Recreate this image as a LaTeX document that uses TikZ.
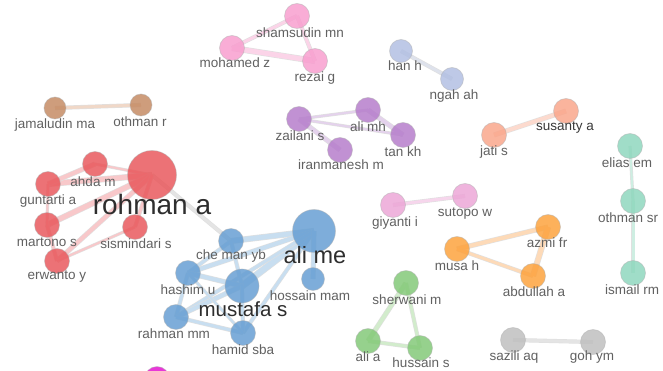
\documentclass[tikz,border=0pt]{standalone}
\usepackage{fontspec}
\setmainfont{Liberation Sans}
\usetikzlibrary{backgrounds}
\definecolor{cRed}{RGB}{233,84,88}
\definecolor{eRed}{RGB}{248,200,202}
\definecolor{cBlue}{RGB}{98,156,210}
\definecolor{eBlue}{RGB}{200,222,240}
\definecolor{cBrown}{RGB}{196,136,96}
\definecolor{eBrown}{RGB}{240,216,200}
\definecolor{cPink}{RGB}{248,156,206}
\definecolor{ePink}{RGB}{251,212,232}
\definecolor{cLav}{RGB}{176,190,226}
\definecolor{eLav}{RGB}{222,226,236}
\definecolor{cPurp}{RGB}{180,122,202}
\definecolor{ePurp}{RGB}{228,210,236}
\definecolor{cSalm}{RGB}{250,164,136}
\definecolor{eSalm}{RGB}{252,218,206}
\definecolor{cTeal}{RGB}{140,214,188}
\definecolor{eTeal}{RGB}{206,238,226}
\definecolor{cPink2}{RGB}{236,164,214}
\definecolor{ePink2}{RGB}{246,214,236}
\definecolor{cOrng}{RGB}{253,160,56}
\definecolor{eOrng}{RGB}{253,218,184}
\definecolor{cGreen}{RGB}{128,200,116}
\definecolor{eGreen}{RGB}{210,236,204}
\definecolor{cGray}{RGB}{190,190,190}
\definecolor{eGray}{RGB}{228,228,228}
\definecolor{cMag}{RGB}{232,56,216}
\tikzset{
  x=1pt, y=-1pt,
  author/.style={circle, draw=white!70!black, line width=0.7pt, fill=#1, fill opacity=0.82, draw opacity=0.5, inner sep=0pt, minimum size=25pt},
  nm/.style={text=black!62, font=\fontsize{13.5}{14}\selectfont, inner sep=0pt},
  bignm/.style={text=black!82, font=\fontsize{#1}{#1}\selectfont, inner sep=0pt},
}
\newcommand\mylink[4]{%
  \draw[black!12, line width=#2+1.2pt] (#3.center) -- (#4.center);
  \draw[#1, line width=#2] (#3.center) -- (#4.center);}
\begin{document}
\begin{tikzpicture}
\useasboundingbox (0,0) rectangle (663,371);
\clip (0,0) rectangle (663,371);

% brown
\node[author=cBrown, minimum size=22pt] (jam) at (55,108) {};
\node[author=cBrown, minimum size=22pt] (othr) at (141,105) {};
% red
\node[author=cRed, minimum size=49pt] (rohman) at (152,175) {};
\node[author=cRed] (ahda) at (95,164) {};
\node[author=cRed] (gunt) at (48,184) {};
\node[author=cRed] (mart) at (47,225) {};
\node[author=cRed] (sism) at (135,227) {};
\node[author=cRed] (erw) at (57,261) {};
% blue
\node[author=cBlue, minimum size=43pt] (alime) at (314,231) {};
\node[author=cBlue] (che) at (231,241) {};
\node[author=cBlue] (hash) at (188,273) {};
\node[author=cBlue, minimum size=34pt] (must) at (242,286) {};
\node[author=cBlue, minimum size=23pt] (hoss) at (313,279) {};
\node[author=cBlue] (rahm) at (176,317) {};
\node[author=cBlue] (hami) at (243,333) {};
% magenta partial
\node[author=cMag, fill opacity=1] (mag) at (157,379) {};
% pink top
\node[author=cPink] (sham) at (297,16) {};
\node[author=cPink] (moha) at (232,48) {};
\node[author=cPink] (reza) at (315,61) {};
% lavender
\node[author=cLav, minimum size=23pt] (han) at (401,51) {};
\node[author=cLav, minimum size=23pt] (ngah) at (452,79) {};
% purple
\node[author=cPurp] (zail) at (299,119) {};
\node[author=cPurp] (alimh) at (368,110) {};
\node[author=cPurp] (tan) at (403,135) {};
\node[author=cPurp] (iran) at (340,150) {};
% salmon
\node[author=cSalm] (jati) at (494,135) {};
\node[author=cSalm] (susa) at (566,111) {};
% teal
\node[author=cTeal] (elias) at (630,146) {};
\node[author=cTeal] (oths) at (633,201) {};
\node[author=cTeal] (isma) at (633,273) {};
% pink2
\node[author=cPink2] (giya) at (393,205) {};
\node[author=cPink2] (suto) at (465,196) {};
% orange
\node[author=cOrng] (musa) at (457,249) {};
\node[author=cOrng] (azmi) at (548,227) {};
\node[author=cOrng] (abdu) at (533,276) {};
% green
\node[author=cGreen] (sher) at (406,283) {};
\node[author=cGreen] (alia) at (368,341) {};
\node[author=cGreen] (huss) at (420,348) {};
% gray
\node[author=cGray] (sazi) at (513,340) {};
\node[author=cGray] (goh) at (593,342) {};

\begin{pgfonlayer}{background}
\fill[white] (0,0) rectangle (663,371);
\mylink{eBrown}{3pt}{jam}{othr}
\mylink{eGray}{3pt}{rohman}{che}
\mylink{eRed}{2pt}{rohman}{ahda}
\mylink{eRed}{5pt}{rohman}{gunt}
\mylink{eRed}{5pt}{rohman}{mart}
\mylink{eRed}{4pt}{rohman}{erw}
\mylink{eRed}{3pt}{rohman}{sism}
\mylink{eRed}{4pt}{ahda}{gunt}
\mylink{eRed}{2pt}{gunt}{mart}
\mylink{eRed}{3pt}{mart}{erw}
\mylink{eRed}{2pt}{erw}{sism}
\mylink{eBlue}{5pt}{alime}{che}
\mylink{eBlue}{6pt}{alime}{must}
\mylink{eBlue}{4pt}{alime}{hash}
\mylink{eBlue}{3pt}{alime}{hami}
\mylink{eBlue}{3pt}{alime}{rahm}
\mylink{eBlue}{4pt}{alime}{hoss}
\mylink{eBlue}{3pt}{che}{hash}
\mylink{eBlue}{3pt}{che}{must}
\mylink{eBlue}{4pt}{hash}{must}
\mylink{eBlue}{3pt}{hash}{rahm}
\mylink{eBlue}{4pt}{must}{rahm}
\mylink{eBlue}{3pt}{must}{hami}
\mylink{eBlue}{3pt}{rahm}{hami}
\mylink{eBlue}{2pt}{hash}{hami}
\mylink{ePink}{3pt}{moha}{sham}
\mylink{ePink}{5pt}{moha}{reza}
\mylink{ePink}{3pt}{sham}{reza}
\mylink{eLav}{3pt}{han}{ngah}
\mylink{ePurp}{2pt}{zail}{alimh}
\mylink{ePurp}{2pt}{zail}{tan}
\mylink{ePurp}{4pt}{zail}{iran}
\mylink{ePurp}{4pt}{alimh}{tan}
\mylink{eSalm}{4pt}{jati}{susa}
\mylink{eTeal}{2pt}{elias}{oths}
\mylink{eTeal}{3pt}{oths}{isma}
\mylink{ePink2}{3pt}{giya}{suto}
\mylink{eOrng}{4pt}{musa}{azmi}
\mylink{eOrng}{3pt}{musa}{abdu}
\mylink{eOrng}{5pt}{azmi}{abdu}
\mylink{eGreen}{4pt}{sher}{alia}
\mylink{eGreen}{3pt}{sher}{huss}
\mylink{eGreen}{3pt}{alia}{huss}
\mylink{eGray}{3pt}{sazi}{goh}
\end{pgfonlayer}

% labels
\node[nm] (ljam) at (55,125) {jamaludin ma};
\node[nm] (lothr) at (140,122) {othman r};
\node[bignm=28] (lrohman) at (152,204) {rohman a};
\node[nm] (lahda) at (93,182) {ahda m};
\node[nm] (lgunt) at (48,201) {guntarti a};
\node[nm] (lmart) at (47,242) {martono s};
\node[nm] (lsism) at (136,244) {sismindari s};
\node[nm] (lerw) at (57,277) {erwanto y};
\node[bignm=23.5] (lalime) at (315,255) {ali me};
\node[nm] (lche) at (231,256) {che man yb};
\node[nm] (lhash) at (188,290) {hashim u};
\node[bignm=20.5] (lmust) at (243,309) {mustafa s};
\node[nm] (lhoss) at (310,296) {hossain mam};
\node[nm] (lrahm) at (174,334) {rahman mm};
\node[nm] (lhami) at (243,350) {hamid sba};
\node[nm] (lsham) at (300,33) {shamsudin mn};
\node[nm] (lmoha) at (235,63) {mohamed z};
\node[nm] (lreza) at (315,78) {rezai g};
\node[nm] (lhan) at (405,66) {han h};
\node[nm] (lngah) at (454,96) {ngah ah};
\node[nm] (lzail) at (300,136) {zailani s};
\node[nm] (lalimh) at (368,127) {ali mh};
\node[nm] (ltan) at (403,152) {tan kh};
\node[nm] (liran) at (341,165) {iranmanesh m};
\node[nm] (ljati) at (494,152) {jati s};
\node[nm, text=black!78] (lsusa) at (565,128) {susanty a};
\node[nm] (lelias) at (627,163) {elias em};
\node[nm, anchor=west] (loths) at (598,218) {othman sr};
\node[nm, anchor=west] (lisma) at (605,290) {ismail rm};
\node[nm] (lgiya) at (395,223) {giyanti i};
\node[nm] (lsuto) at (465,214) {sutopo w};
\node[nm] (lmusa) at (457,266) {musa h};
\node[nm] (lazmi) at (547,243) {azmi fr};
\node[nm] (labdu) at (534,292) {abdullah a};
\node[nm] (lsher) at (407,300) {sherwani m};
\node[nm] (lalia) at (368,357) {ali a};
\node[nm] (lhuss) at (421,363) {hussain s};
\node[nm] (lsazi) at (514,357) {sazili aq};
\node[nm] (lgoh) at (592,357) {goh ym};
\end{tikzpicture}
\end{document}
